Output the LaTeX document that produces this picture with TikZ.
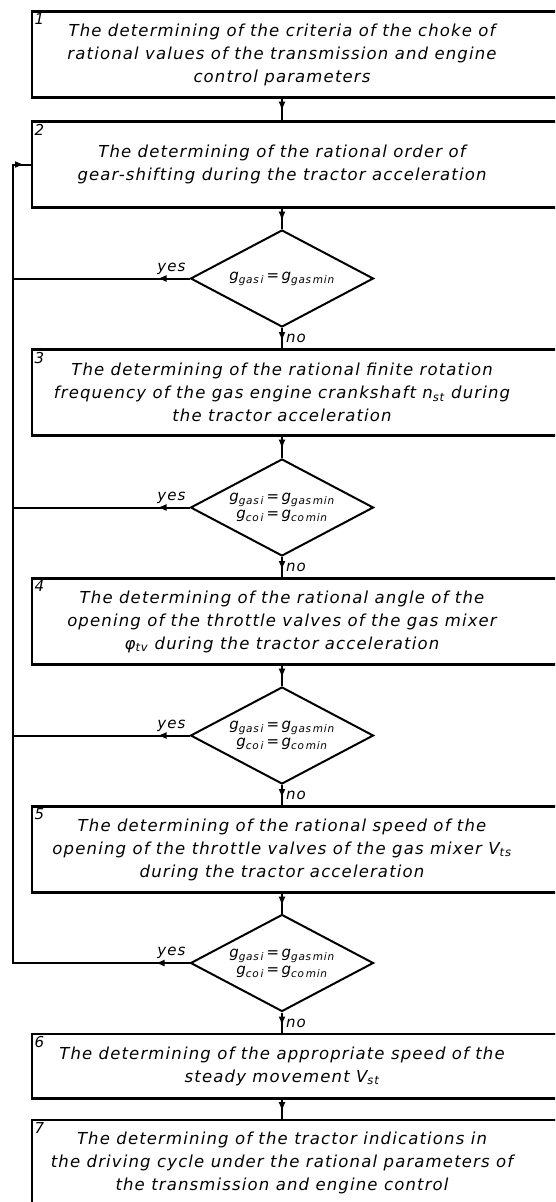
\documentclass[tikz,border=0pt]{standalone}
\usepackage{fontspec}
\setmainfont{DejaVu Sans}
\newfontfamily\boxfont{DejaVu Sans}[LetterSpace=7]
\usetikzlibrary{arrows.meta, shapes.geometric, decorations.markings}

\begin{document}
\begin{tikzpicture}[x=1pt, y=1pt,
  box/.style={align=center, font=\boxfont\itshape\fontsize{16.5}{23}\selectfont,
              minimum height=86pt, inner sep=0pt},
  frame/.style={draw, line width=2.6pt},
  cond/.style={draw, diamond, aspect=1.9, line width=2pt, minimum width=183pt,
               minimum height=97pt, inner sep=0pt, align=center,
               font=\boxfont\itshape\fontsize{15}{17}\selectfont},
  num/.style={anchor=north west, inner sep=2.5pt, font=\itshape\fontsize{15}{15}\selectfont},
  lbl/.style={font=\boxfont\itshape\fontsize{15}{15}\selectfont, inner sep=3pt},
  flowtip/.tip={Latex[length=9pt, width=7pt]},
  flow/.style={line width=2pt, postaction={decorate},
               decoration={markings, mark=at position #1 with {\arrow{flowtip}}}},
  flow/.default=13pt,
  loopflow/.style={line width=2pt, postaction={decorate},
               decoration={markings, mark=at position 34pt with {\arrow{flowtip}},
                           mark=at position -8pt with {\arrow{flowtip}}}},
]
  \clip (0,0) rectangle (555,-1202);
  \coordinate (lft)  at (32,0);
  \coordinate (rgt)  at (600,0);
  \coordinate (rail) at (13,0);

  \node[box] (b1) at (282,-54.5)
        {The determining of the criteria of the choke of\\rational values of the transmission and engine\\control parameters};
  \node[box] (b2) at (282,-164.5)
        {The determining of the rational order of\\gear-shifting during the tractor acceleration};
  \node[cond] (d1) at (282,-278.5)
        {g\textsubscript{gas\,i}\,=\,g\textsubscript{gas\,min}};
  \node[box] (b3) at (282,-392.5)
        {The determining of the rational finite rotation\\frequency of the gas engine crankshaft n\textsubscript{st} during\\the tractor acceleration};
  \node[cond] (d2) at (282,-507.5)
        {g\textsubscript{gas\,i}\,=\,g\textsubscript{gas\,min}\\g\textsubscript{co\,i}\,=\,g\textsubscript{co\,min}};
  \node[box] (b4) at (282,-621.5)
        {The determining of the rational angle of the\\opening of the throttle valves of the gas mixer\\φ\textsubscript{tv} during the tractor acceleration};
  \node[cond] (d3) at (282,-735.5)
        {g\textsubscript{gas\,i}\,=\,g\textsubscript{gas\,min}\\g\textsubscript{co\,i}\,=\,g\textsubscript{co\,min}};
  \node[box] (b5) at (282,-849.5)
        {The determining of the rational speed of the\\opening of the throttle valves of the gas mixer V\textsubscript{ts}\\during the tractor acceleration};
  \node[cond] (d4) at (282,-963)
        {g\textsubscript{gas\,i}\,=\,g\textsubscript{gas\,min}\\g\textsubscript{co\,i}\,=\,g\textsubscript{co\,min}};
  \node[box, minimum height=64pt] (b6) at (282,-1066)
        {The determining of the appropriate speed of the\\steady movement V\textsubscript{st}};
  \node[box] (b7) at (282,-1163)
        {The determining of the tractor indications in\\the driving cycle under the rational parameters of\\the transmission and engine control};

  \foreach \b in {1,...,7} {
    \draw[frame] (b\b.north -| lft) rectangle (b\b.south -| rgt);
    \node[num] (n\b) at (b\b.north -| lft) {\b};
  }

  \draw[flow] (b1.south) -- (b2.north);
  \draw[flow] (b2.south) -- (d1.north);
  \draw[flow] (d1.south) -- node[lbl, right] {no} (b3.north);
  \draw[flow] (b3.south) -- (d2.north);
  \draw[flow] (d2.south) -- node[lbl, right] {no} (b4.north);
  \draw[flow] (b4.south) -- (d3.north);
  \draw[flow] (d3.south) -- node[lbl, right] {no} (b5.north);
  \draw[flow] (b5.south) -- (d4.north);
  \draw[flow] (d4.south) -- node[lbl, right] {no} (b6.north);
  \draw[flow] (b6.south) -- (b7.north);

  \draw[flow=32pt] (d1.west) -- node[lbl, pos=0, above left] {yes} (d1.west -| rail);
  \draw[flow=32pt] (d2.west) -- node[lbl, pos=0, above left] {yes} (d2.west -| rail);
  \draw[flow=32pt] (d3.west) -- node[lbl, pos=0, above left] {yes} (d3.west -| rail);
  \draw[loopflow] (d4.west) -- node[lbl, pos=0, above left] {yes} (d4.west -| rail)
                  |- (b2 -| lft);
\end{tikzpicture}
\end{document}
